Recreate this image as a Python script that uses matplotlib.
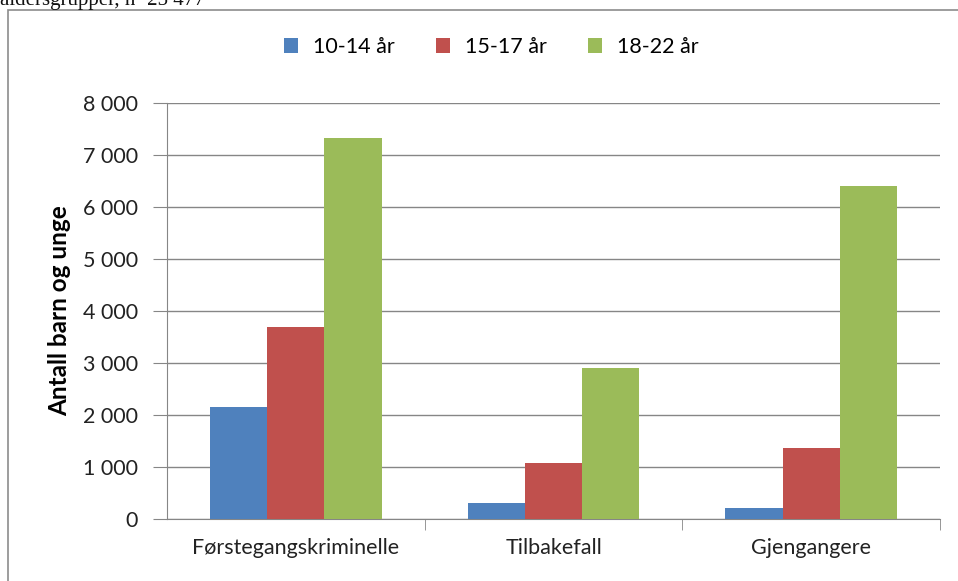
import matplotlib.pyplot as plt
from matplotlib.patches import Rectangle
import numpy as np

categories = ["Førstegangskriminelle", "Tilbakefall", "Gjengangere"]
series = ["10-14 år", "15-17 år", "18-22 år"]
v_10_14 = [2160, 310, 215]
v_15_17 = [3700, 1085, 1360]
v_18_22 = [7320, 2900, 6410]
colors = ["#4F81BD", "#C0504D", "#9BBB59"]
yticks = [0, 1000, 2000, 3000, 4000, 5000, 6000, 7000, 8000]
ytick_labels = ["0", "1 000", "2 000", "3 000", "4 000", "5 000", "6 000", "7 000", "8 000"]

plt.rcParams['font.family'] = ['Lato', 'DejaVu Sans']

fig = plt.figure(figsize=(9.58, 5.81), dpi=100)
ax = fig.add_axes([167/958, 1-519/581, (940-167)/958, (519-103)/581])

x = np.arange(len(categories))
w = 0.222
for i, (vals, lab) in enumerate(zip([v_10_14, v_15_17, v_18_22], series)):
    ax.bar(x + (i-1)*w, vals, w, color=colors[i], label=lab, zorder=3)

ax.set_xlim(-0.5, 2.5)
ax.set_ylim(0, 8000)
ax.set_yticks(yticks)
ax.set_yticklabels(ytick_labels, fontsize=15.5, color="#222222")
ax.set_xticks(x)
ax.set_xticklabels(categories, fontsize=15.5, color="#222222")
ax.set_xticks([0.5, 1.5, 2.5], minor=True)
ax.tick_params(axis='x', which='major', length=0, pad=14)
ax.tick_params(axis='x', which='minor', length=8, color="#868686", direction='out')
ax.tick_params(axis='y', length=10, color="#868686", pad=11)
ax.grid(axis='y', color="#868686", linewidth=1, zorder=0)
for s in ['top', 'right']:
    ax.spines[s].set_visible(False)
for s in ['left', 'bottom']:
    ax.spines[s].set_color("#868686")
ax.set_ylabel("Antall barn og unge", fontsize=17.5, fontweight='bold', labelpad=8)

fig.legend(loc='center', bbox_to_anchor=(0.513, 1-47/581), ncol=3, frameon=False,
           fontsize=15.5, handlelength=0.65, handleheight=0.65, columnspacing=1.9, handletextpad=0.7)

# outer frame of the chart area
fig.patches.append(Rectangle((8/958, -0.1), 1.1, 1-10/581+0.1, transform=fig.transFigure,
                             fill=False, edgecolor="#8c8c8c", linewidth=1.2))
fig.text(0.0, 1.0, "aldersgrupper, n=25 477", family=['Liberation Serif'], fontsize=15,
         va='center', ha='left', color="#111111")

fig.savefig("out.png", dpi=100)
